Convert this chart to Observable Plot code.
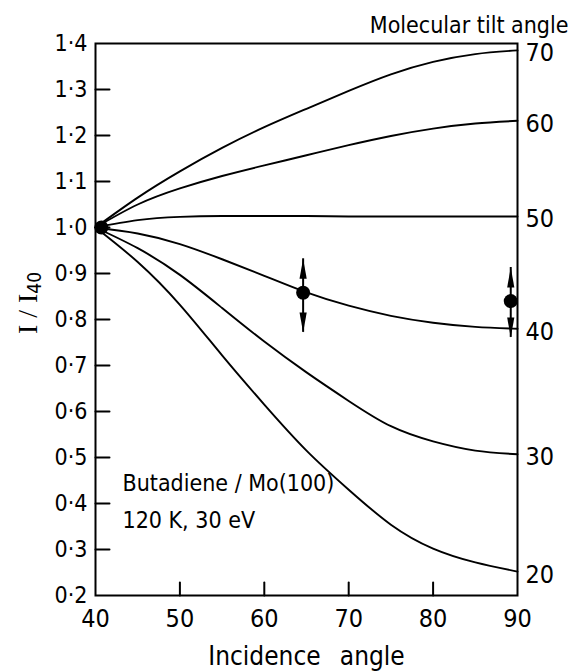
<!DOCTYPE html>
<html><head><meta charset="utf-8">
<script src="https://cdn.jsdelivr.net/npm/d3@7"></script>
<script src="https://cdn.jsdelivr.net/npm/@observablehq/plot@0.6"></script>
<style>body{margin:0;background:#fff;}</style>
</head><body><div id="chart"></div>
<script>
// ---- data ----
const incidenceAngles = [40, 45, 50, 55, 60, 65, 70, 75, 80, 85, 90];
const tiltAngles = [70, 60, 50, 40, 30, 20];
const ratio70 = [1.0, 1.065, 1.122, 1.173, 1.218, 1.258, 1.297, 1.333, 1.36, 1.377, 1.385];
const ratio60 = [1.0, 1.05, 1.085, 1.112, 1.135, 1.157, 1.179, 1.199, 1.215, 1.226, 1.232];
const ratio50 = [1.0, 1.016, 1.023, 1.025, 1.025, 1.025, 1.024, 1.024, 1.024, 1.024, 1.024];
const ratio40 = [1.0, 0.987, 0.964, 0.931, 0.895, 0.859, 0.83, 0.808, 0.793, 0.784, 0.78];
const ratio30 = [1.0, 0.955, 0.897, 0.825, 0.752, 0.685, 0.623, 0.568, 0.535, 0.515, 0.507];
const ratio20 = [1.0, 0.925, 0.832, 0.722, 0.615, 0.515, 0.43, 0.354, 0.302, 0.272, 0.252];

const measuredAngle = [40.7, 64.6, 89.2];
const measuredRatio = [1.0, 0.858, 0.84];
const errorAngle = [64.6, 89.2];
const errorLow = [0.772, 0.761];
const errorHigh = [0.932, 0.913];

const yTickValues = [0.2, 0.3, 0.4, 0.5, 0.6, 0.7, 0.8, 0.9, 1.0, 1.1, 1.2, 1.3, 1.4];
const yInnerTicks = [0.3, 0.4, 0.5, 0.6, 0.7, 0.8, 0.9, 1.0, 1.1, 1.2, 1.3];
const xTickValues = [40, 50, 60, 70, 80, 90];
const xInnerTicks = [50, 60, 70, 80];

const xTitle = "Incidence\u2002 angle";
const rightTitle = "Molecular tilt angle";
const sampleNote = "Butadiene / Mo(100)\n120 K, 30 eV";

// ---- derived tables ----
const seriesByTilt = [ratio70, ratio60, ratio50, ratio40, ratio30, ratio20];
const curves = tiltAngles.flatMap((t, i) =>
  incidenceAngles.map((a, j) => ({tilt: t, angle: a, ratio: seriesByTilt[i][j]})));
const curveEnds = tiltAngles.map((t, i) =>
  ({tilt: t, angle: incidenceAngles[incidenceAngles.length - 1], ratio: seriesByTilt[i][seriesByTilt[i].length - 1]}));
const measured = measuredAngle.map((a, i) => ({angle: a, ratio: measuredRatio[i]}));
const errors = errorAngle.map((a, i) => ({angle: a, low: errorLow[i], high: errorHigh[i]}));

const sans = '"DejaVu Sans Condensed", "DejaVu Sans", sans-serif';
const tickLine = {draw(ctx, l) { ctx.moveTo(0, 0); ctx.lineTo(0, -l); }};
const headUp = {draw(ctx) { ctx.moveTo(0, 0); ctx.lineTo(3.6, 20); ctx.lineTo(-3.6, 20); ctx.closePath(); }};
const headDown = {draw(ctx) { ctx.moveTo(0, 0); ctx.lineTo(3.6, -20); ctx.lineTo(-3.6, -20); ctx.closePath(); }};
const fmt = d => d3.format(".1f")(d).replace(".", "\u00b7");

const chart = Plot.plot({
  width: 577,
  height: 672,
  marginLeft: 95,
  marginRight: 60,
  marginTop: 43,
  marginBottom: 77,
  style: {fontFamily: sans, fontSize: "23px", color: "black", background: "white"},
  x: {domain: [40, 90], label: null},
  y: {domain: [0.2, 1.4], label: null},
  marks: [
    Plot.frame({strokeWidth: 2}),
    Plot.axisY({ticks: yTickValues, tickSize: 0, tickPadding: 8, tickFormat: fmt, fontSize: 23, label: null}),
    Plot.axisX({ticks: xTickValues, tickSize: 0, tickPadding: 14, fontSize: 25, label: null}),
    Plot.vector(yInnerTicks, {x: () => 40, y: d => d, length: 14, rotate: 90, anchor: "start", shape: tickLine, strokeWidth: 2}),
    Plot.vector(xInnerTicks, {x: d => d, y: () => 0.2, length: 13, rotate: 0, anchor: "start", shape: tickLine, strokeWidth: 2}),
    Plot.line(curves, {x: "angle", y: "ratio", z: "tilt", curve: "natural", strokeWidth: 1.9}),
    Plot.text(curveEnds, {x: "angle", y: "ratio", text: d => String(d.tilt), textAnchor: "start", dx: 8, dy: 3, fontSize: 25}),
    Plot.ruleX(errors, {x: "angle", y1: "low", y2: "high", strokeWidth: 2}),
    Plot.dot(errors, {x: "angle", y: "high", symbol: headUp, fill: "black", stroke: "none"}),
    Plot.dot(errors, {x: "angle", y: "low", symbol: headDown, fill: "black", stroke: "none"}),
    Plot.dot(measured, {x: "angle", y: "ratio", r: 7, fill: "black", stroke: "none"}),
    Plot.text([rightTitle], {frameAnchor: "top-right", textAnchor: "end", dx: 51, dy: -27, fontSize: 23}),
    Plot.text([xTitle], {frameAnchor: "bottom", dy: 69, fontSize: 26}),
    Plot.text([sampleNote], {frameAnchor: "bottom-left", textAnchor: "start", dx: 27, dy: -68, fontSize: 23, lineHeight: 1.6})
  ]
});

// y-axis title with subscript
const svg = d3.select(chart);
const yl = svg.append("text")
  .attr("transform", "translate(27,303) rotate(-90)")
  .attr("text-anchor", "middle")
  .attr("dominant-baseline", "central")
  .style("font-family", '"Liberation Serif", "DejaVu Serif", serif')
  .style("font-size", "28px")
  .attr("fill", "black");
yl.append("tspan").text("I / I");
yl.append("tspan").attr("dy", 7).style("font-family", sans).style("font-size", "19px").text("40");

document.getElementById("chart").appendChild(chart);
</script>
</body></html>
